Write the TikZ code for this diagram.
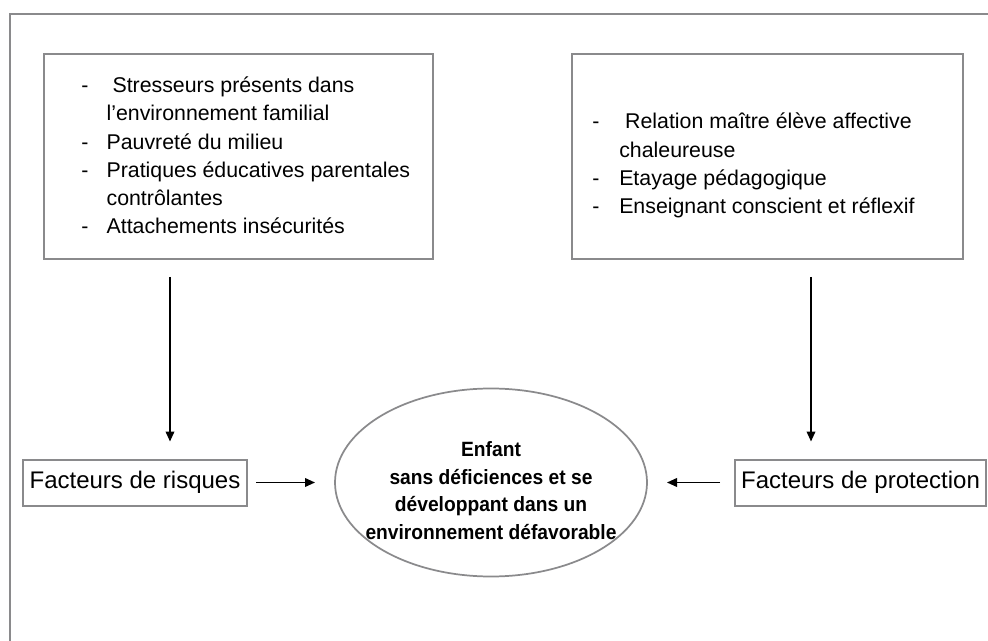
\documentclass[tikz,border=0pt]{standalone}
\usepackage{fontspec}
\setmainfont{Liberation Sans}
\newfontfamily\childfont[FakeStretch=0.93]{Liberation Sans}
\usetikzlibrary{arrows.meta, calc, positioning, shapes.geometric}
\definecolor{framegray}{HTML}{8A8A8C}

\begin{document}
\begin{tikzpicture}[x=0.75pt, y=-0.75pt, % pixel grid, y pointing down
         > = {Triangle[length=7.5pt, width=6.5pt]},
listbox/.style = {draw=framegray, line width=1.5pt,
                  inner sep=0pt, outer sep=0pt},
factor/.style  = {draw=framegray, line width=1.5pt,
                  minimum height=34.5pt, inner sep=0pt, outer sep=0pt,
                  font=\fontsize{18}{20}\selectfont},
child/.style   = {ellipse, draw=framegray, line width=1.3pt,
                  minimum width=234pt, minimum height=141pt,
                  inner sep=0pt, outer sep=0pt},
childtext/.style = {align=center, inner sep=0pt,
                  font=\childfont\bfseries\fontsize{15.5}{20.8}\selectfont},
items/.style   = {anchor=base west, inner sep=0pt,
                  font=\fontsize{16}{21.2}\selectfont},
link/.style    = {->, line width=1.2pt}
                    ]
	\useasboundingbox (0,0) rectangle (988,641);
	% outer frame (top and left only)
	\draw[framegray, line width=1.9pt] (988,14) -| (10,641);

	% the two lists of factors
	\node[listbox, minimum width=291.75pt, minimum height=153.75pt] (risklist) at (238.5,156.5) {};
	\node[listbox, minimum width=293.25pt, minimum height=153.75pt] (protlist) at (767.5,156.5) {};

	\node[items] (risktext) at (81,92.5) {%
		\begin{tabular}[t]{@{}p{19pt}@{}l@{}}
		- & \ Stresseurs présents dans\\
		  & l’environnement familial\\
		- & Pauvreté du milieu\\
		- & Pratiques éducatives parentales\\
		  & contrôlantes\\
		- & Attachements insécurités
		\end{tabular}};
	\node[items] (prottext) at (592,129) {%
		\begin{tabular}[t]{@{}p{20.25pt}@{}l@{}}
		- & \ Relation maître élève affective\\
		  & chaleureuse\\
		- & Etayage pédagogique\\
		- & Enseignant conscient et réflexif
		\end{tabular}};

	% labels and child
	\node[factor, minimum width=168pt] (risklabel) at (135,482.5) {Facteurs de risques};
	\node[factor, minimum width=188.25pt] (protlabel) at (860.5,482.5) {Facteurs de protection};
	\node[child] (child) at (491,482.5) {};
	\node[childtext] (childlabel) at ($(child.center)+(0,8)$) {Enfant\\ sans déficiences et se\\ développant dans un\\ environnement défavorable};

	% arrows
	\coordinate (riskx) at (170,0);
	\coordinate (protx) at (811,0);
	\draw[link, shorten <=13.5pt, shorten >=13.5pt] (risklist.south -| riskx) -- (risklabel.north -| riskx);
	\draw[link, shorten <=13.5pt, shorten >=13.5pt] (protlist.south -| protx) -- (protlabel.north -| protx);
	\draw[link, shorten <=6.75pt, shorten >=15pt] (risklabel.east) -- (child.west);
	\draw[link, shorten <=11.25pt, shorten >=15pt] (protlabel.west) -- (child.east);
\end{tikzpicture}
\end{document}
